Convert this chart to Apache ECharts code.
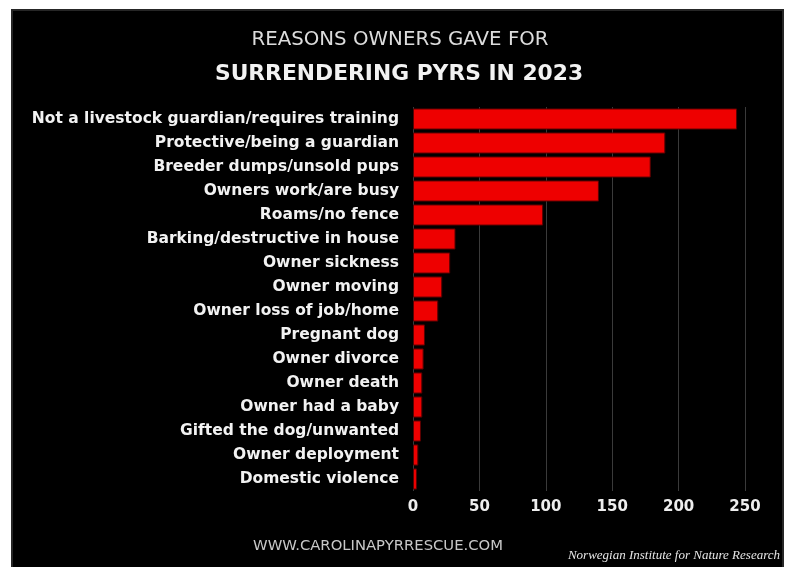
<!DOCTYPE html>
<html>
<head>
<meta charset="utf-8">
<script src="https://cdn.jsdelivr.net/npm/echarts@6/dist/echarts.min.js"></script>
<style>
  html, body { margin: 0; padding: 0; background: #ffffff; }
  #chart { width: 788px; height: 567px; }
</style>
</head>
<body>
<div id="chart"></div>
<script>
const categories = [
  "Not a livestock guardian/requires training",
  "Protective/being a guardian",
  "Breeder dumps/unsold pups",
  "Owners work/are busy",
  "Roams/no fence",
  "Barking/destructive in house",
  "Owner sickness",
  "Owner moving",
  "Owner loss of job/home",
  "Pregnant dog",
  "Owner divorce",
  "Owner death",
  "Owner had a baby",
  "Gifted the dog/unwanted",
  "Owner deployment",
  "Domestic violence"
];
const values = [244, 190, 179, 140, 98, 32, 28, 22, 19, 9, 8, 7, 7, 6, 4, 3];
const titleLine1 = "REASONS OWNERS GAVE FOR";
const titleLine2 = "SURRENDERING PYRS IN 2023";
const footerText = "WWW.CAROLINAPYRRESCUE.COM";
const sourceText = "Norwegian Institute for Nature Research";

const chart = echarts.init(document.getElementById('chart'));
chart.setOption({
  backgroundColor: '#ffffff',
  animation: false,
  graphic: [
    {
      type: 'rect', z: -10, silent: true,
      shape: { x: 12, y: 10, width: 771, height: 570 },
      style: { fill: '#000000', stroke: '#262626', lineWidth: 2 }
    },
    {
      type: 'text', x: 400, y: 40,
      style: { text: titleLine1, fill: '#dcdcdc', font: '19.8px "DejaVu Sans"', textAlign: 'center', textVerticalAlign: 'middle' }
    },
    {
      type: 'text', x: 399, y: 74,
      style: { text: titleLine2, fill: '#f2f2f2', font: 'bold 21.8px "DejaVu Sans"', textAlign: 'center', textVerticalAlign: 'middle' }
    },
    {
      type: 'text', x: 378, y: 546,
      style: { text: footerText, fill: '#c8c8c8', font: '14.8px "DejaVu Sans"', textAlign: 'center', textVerticalAlign: 'middle' }
    },
    {
      type: 'text', x: 780, y: 556,
      style: { text: sourceText, fill: '#e6e6e6', font: 'italic 13px "Liberation Serif"', textAlign: 'right', textVerticalAlign: 'middle' }
    }
  ],
  grid: { left: 413, right: 43, top: 107, bottom: 76, containLabel: false },
  xAxis: {
    type: 'value', min: 0, max: 250, interval: 50,
    axisLine: { show: false }, axisTick: { show: false },
    splitLine: { show: true, lineStyle: { color: '#3a3a3a', width: 1 } },
    axisLabel: { color: '#eeeeee', fontFamily: 'DejaVu Sans', fontWeight: 'bold', fontSize: 15, margin: 9 }
  },
  yAxis: {
    type: 'category', data: categories, inverse: true,
    axisLine: { show: false }, axisTick: { show: false },
    axisLabel: { color: '#f2f2f2', fontFamily: 'DejaVu Sans', fontWeight: 'bold', fontSize: 15.5, margin: 14 }
  },
  series: [{
    type: 'bar', data: values, barCategoryGap: '12%',
    itemStyle: { color: '#ee0000', borderColor: '#5a0000', borderWidth: 1 }
  }]
});
</script>
</body>
</html>
